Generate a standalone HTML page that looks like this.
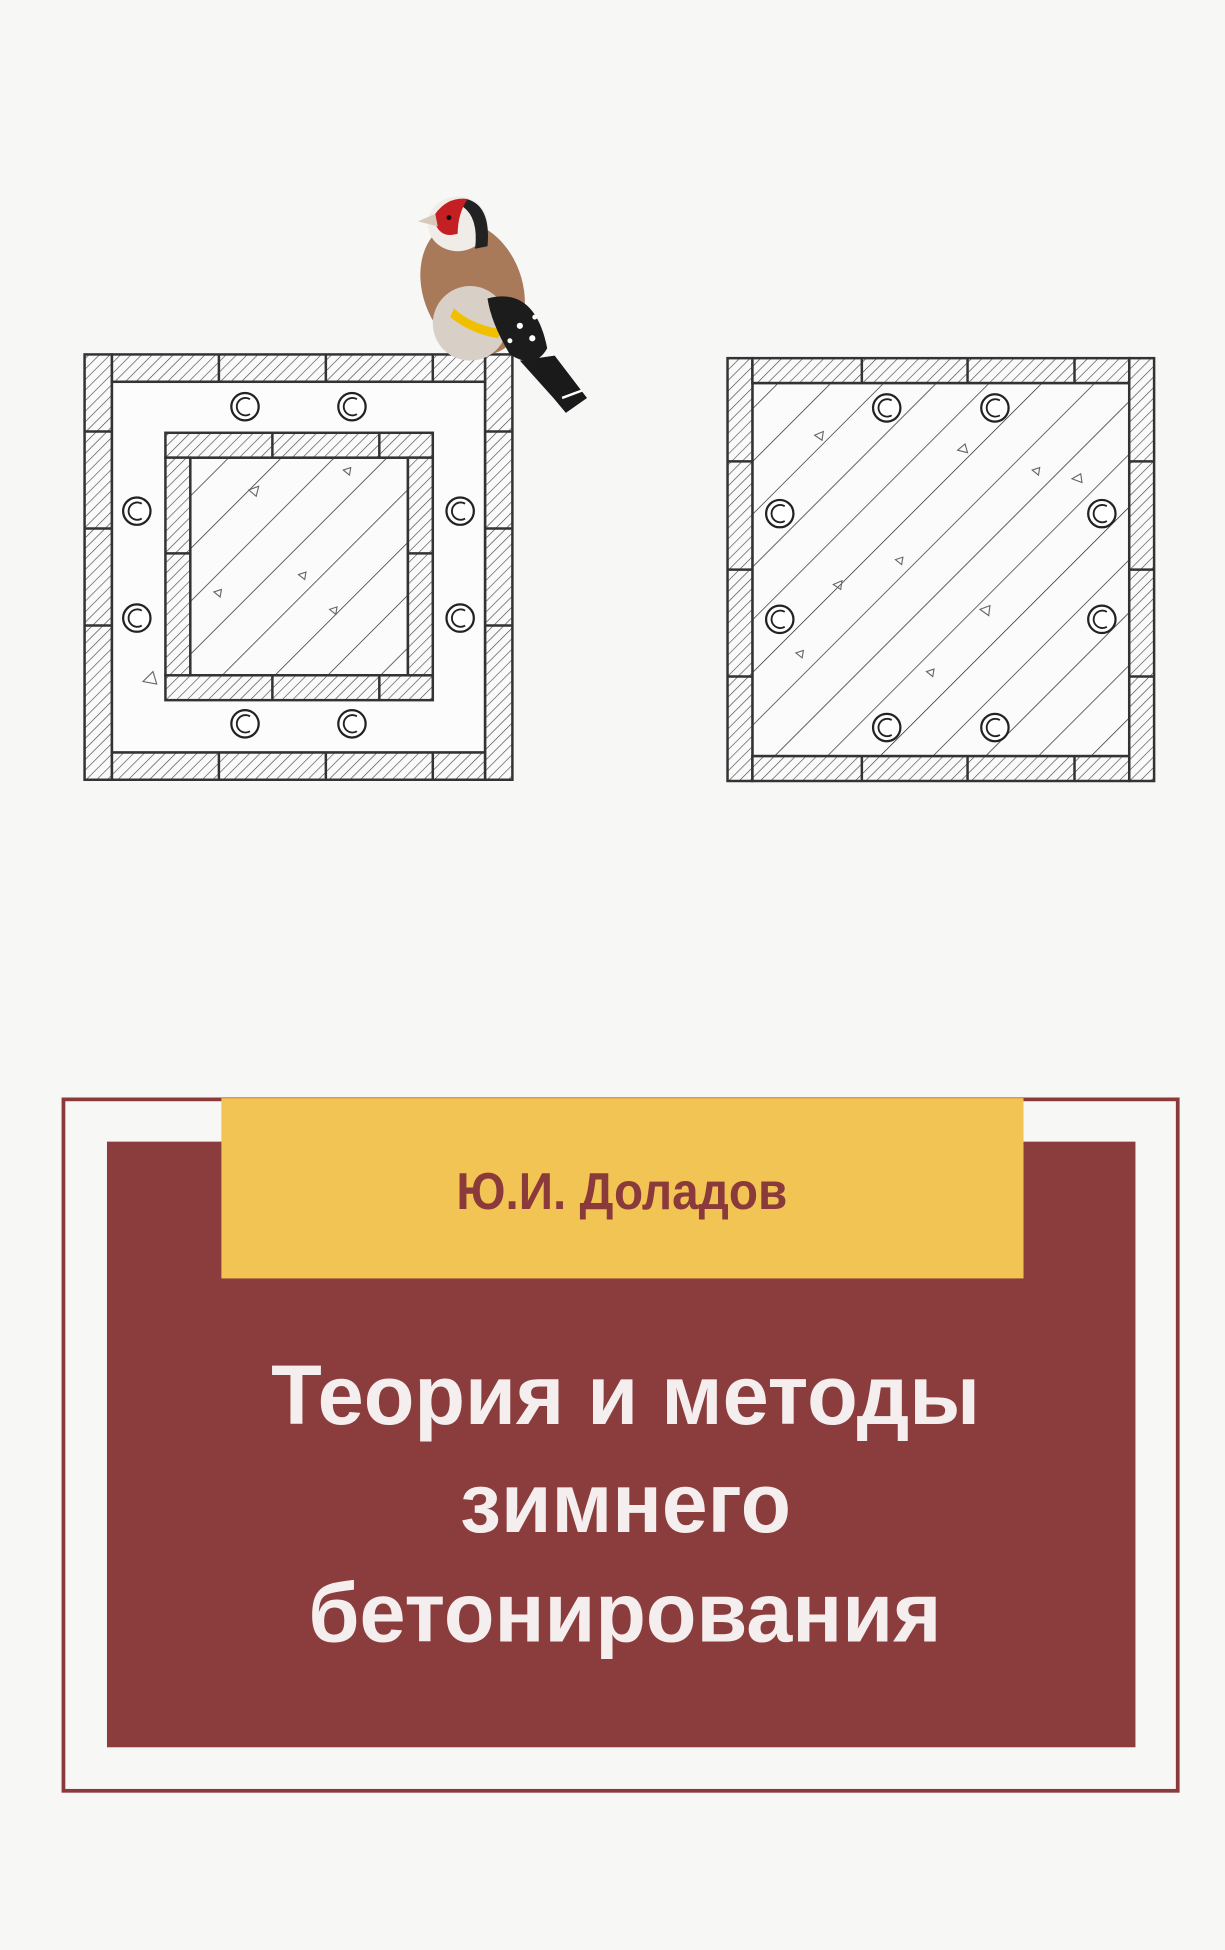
<!DOCTYPE html>
<html><head><meta charset="utf-8"><style>
html,body{margin:0;padding:0;background:#f7f7f6;}
svg{display:block;}
</style></head><body>
<svg width="1225" height="1950" viewBox="0 0 985 1568" xmlns="http://www.w3.org/2000/svg">
<defs>
<pattern id="h" patternUnits="userSpaceOnUse" width="6" height="6" patternTransform="rotate(45)">
<rect width="6" height="6" fill="#fafafa"/><line x1="0" y1="0" x2="0" y2="6" stroke="#444" stroke-width="1"/></pattern>
<pattern id="c" patternUnits="userSpaceOnUse" width="30" height="30" patternTransform="rotate(45)">
<rect width="30" height="30" fill="#fbfbfb"/><line x1="0" y1="0" x2="0" y2="30" stroke="#222" stroke-width="1.1"/></pattern>
<g id="ring"><circle r="11" fill="#fff" stroke="#222" stroke-width="1.8"/><path d="M4,-6 A7,7 0 1,0 4,6" fill="none" stroke="#222" stroke-width="1.5"/></g>
</defs>
<rect width="985" height="1568" fill="#f7f7f6"/>

<!-- LEFT DIAGRAM -->
<g stroke="#333" stroke-width="2">
<rect x="68" y="285" width="22" height="342" fill="url(#h)"/>
<rect x="390" y="285" width="22" height="342" fill="url(#h)"/>
<rect x="90" y="285" width="300" height="22" fill="url(#h)"/>
<rect x="90" y="605" width="300" height="22" fill="url(#h)"/>
<rect x="90" y="307" width="300" height="298" fill="#fcfcfc"/>
<line x1="176" y1="285" x2="176" y2="307"/><line x1="262" y1="285" x2="262" y2="307"/><line x1="348" y1="285" x2="348" y2="307"/>
<line x1="176" y1="605" x2="176" y2="627"/><line x1="262" y1="605" x2="262" y2="627"/><line x1="348" y1="605" x2="348" y2="627"/>
<line x1="68" y1="347" x2="90" y2="347"/><line x1="68" y1="425" x2="90" y2="425"/><line x1="68" y1="503" x2="90" y2="503"/>
<line x1="390" y1="347" x2="412" y2="347"/><line x1="390" y1="425" x2="412" y2="425"/><line x1="390" y1="503" x2="412" y2="503"/>
<rect x="153" y="368" width="175" height="175" fill="url(#c)"/>
<rect x="133" y="348" width="215" height="20" fill="url(#h)"/>
<rect x="133" y="543" width="215" height="20" fill="url(#h)"/>
<rect x="133" y="368" width="20" height="175" fill="url(#h)"/>
<rect x="328" y="368" width="20" height="175" fill="url(#h)"/>
<line x1="219" y1="348" x2="219" y2="368"/><line x1="305" y1="348" x2="305" y2="368"/>
<line x1="219" y1="543" x2="219" y2="563"/><line x1="305" y1="543" x2="305" y2="563"/>
<line x1="133" y1="445" x2="153" y2="445"/><line x1="328" y1="445" x2="348" y2="445"/>
</g>
<use href="#ring" x="197" y="327"/><use href="#ring" x="283" y="327"/>
<use href="#ring" x="110" y="411"/><use href="#ring" x="110" y="497"/>
<use href="#ring" x="370" y="411"/><use href="#ring" x="370" y="497"/>
<use href="#ring" x="197" y="582"/><use href="#ring" x="283" y="582"/>
<g fill="none" stroke="#666" stroke-width="0.9">
<path d="M200,394 l8,-3 l-2,8z"/><path d="M115,548 l8,-8 l3,10z"/><path d="M240,462 l6,-2 l-1,6z"/><path d="M172,476 l6,-2 l-1,6z"/><path d="M265,490 l6,-2 l-1,6z"/><path d="M276,378 l6,-2 l-1,6z"/>
</g>

<!-- RIGHT DIAGRAM -->
<g stroke="#333" stroke-width="2">
<rect x="605" y="308" width="303" height="300" fill="url(#c)"/>
<rect x="585" y="288" width="20" height="340" fill="url(#h)"/>
<rect x="908" y="288" width="20" height="340" fill="url(#h)"/>
<rect x="605" y="288" width="303" height="20" fill="url(#h)"/>
<rect x="605" y="608" width="303" height="20" fill="url(#h)"/>
<line x1="693" y1="288" x2="693" y2="308"/><line x1="778" y1="288" x2="778" y2="308"/><line x1="864" y1="288" x2="864" y2="308"/>
<line x1="693" y1="608" x2="693" y2="628"/><line x1="778" y1="608" x2="778" y2="628"/><line x1="864" y1="608" x2="864" y2="628"/>
<line x1="585" y1="371" x2="605" y2="371"/><line x1="585" y1="458" x2="605" y2="458"/><line x1="585" y1="544" x2="605" y2="544"/>
<line x1="908" y1="371" x2="928" y2="371"/><line x1="908" y1="458" x2="928" y2="458"/><line x1="908" y1="544" x2="928" y2="544"/>
</g>
<use href="#ring" x="713" y="328"/><use href="#ring" x="800" y="328"/>
<use href="#ring" x="627" y="413"/><use href="#ring" x="627" y="498"/>
<use href="#ring" x="886" y="413"/><use href="#ring" x="886" y="498"/>
<use href="#ring" x="713" y="585"/><use href="#ring" x="800" y="585"/>
<g fill="none" stroke="#666" stroke-width="0.9">
<path d="M655,350 l7,-3 l-1,7z"/><path d="M670,470 l7,-3 l-1,7z"/><path d="M720,450 l6,-2 l-1,6z"/><path d="M830,378 l6,-2 l-1,6z"/><path d="M788,490 l8,-3 l-1,8z"/><path d="M640,525 l6,-2 l-1,6z"/><path d="M862,385 l7,-4 l1,7z"/><path d="M745,540 l6,-2 l-1,6z"/><path d="M770,362 l6,-5 l2,7z"/>
</g>

<!-- BIRD -->
<g>
<path d="M418,290 L445,320 L455,332 L472,320 L446,286 Z" fill="#1a1a1a"/>
<path d="M452,320 l16,-6" stroke="#fff" stroke-width="2"/>
<ellipse cx="380" cy="232" rx="40" ry="55" fill="#a87a5a" transform="rotate(-20 380 232)"/>
<ellipse cx="378" cy="260" rx="30" ry="30" fill="#d8cfc6"/>
<path d="M365,248 Q380,262 405,265 L400,272 Q378,268 362,255 Z" fill="#f0c000"/>
<path d="M392,240 Q430,230 440,280 Q430,298 410,285 Q395,260 392,240 Z" fill="#1c1c1c"/>
<circle cx="418" cy="262" r="2.5" fill="#fff"/><circle cx="428" cy="272" r="2.5" fill="#fff"/><circle cx="410" cy="274" r="2" fill="#fff"/><circle cx="430" cy="255" r="2" fill="#fff"/>
<ellipse cx="368" cy="180" rx="24" ry="22" fill="#f0ece8"/>
<path d="M375,160 Q395,165 392,198 L382,200 Q385,175 372,166 Z" fill="#222"/>
<path d="M350,172 Q360,158 376,160 Q368,172 368,188 Q355,192 350,180 Z" fill="#c41f22"/>
<path d="M336,178 L350,172 L352,182 Z" fill="#d9c9bb"/>
<circle cx="361" cy="175" r="2" fill="#111"/>
</g>

<!-- COVER BLOCK -->
<rect x="51" y="884" width="896" height="556" fill="none" stroke="#8b3a3c" stroke-width="3"/>
<rect x="86" y="918" width="827" height="487" fill="#8b3d3d"/>
<rect x="178" y="883" width="645" height="145" fill="#f1c453"/>
<text x="367" y="972" textLength="266" lengthAdjust="spacingAndGlyphs" font-family="'Liberation Sans Narrow','Liberation Sans',sans-serif" font-weight="bold" font-size="42" fill="#8b3a3c">Ю.И. Доладов</text>
<g font-family="'Liberation Sans Narrow','Liberation Sans',sans-serif" font-weight="bold" font-size="68" fill="#f4eeee" lengthAdjust="spacingAndGlyphs">
<text x="218" y="1145" textLength="570" lengthAdjust="spacingAndGlyphs">Теория и методы</text>
<text x="370" y="1232" textLength="266" lengthAdjust="spacingAndGlyphs">зимнего</text>
<text x="248" y="1320" textLength="509" lengthAdjust="spacingAndGlyphs">бетонирования</text>
</g>
</svg>
</body></html>
